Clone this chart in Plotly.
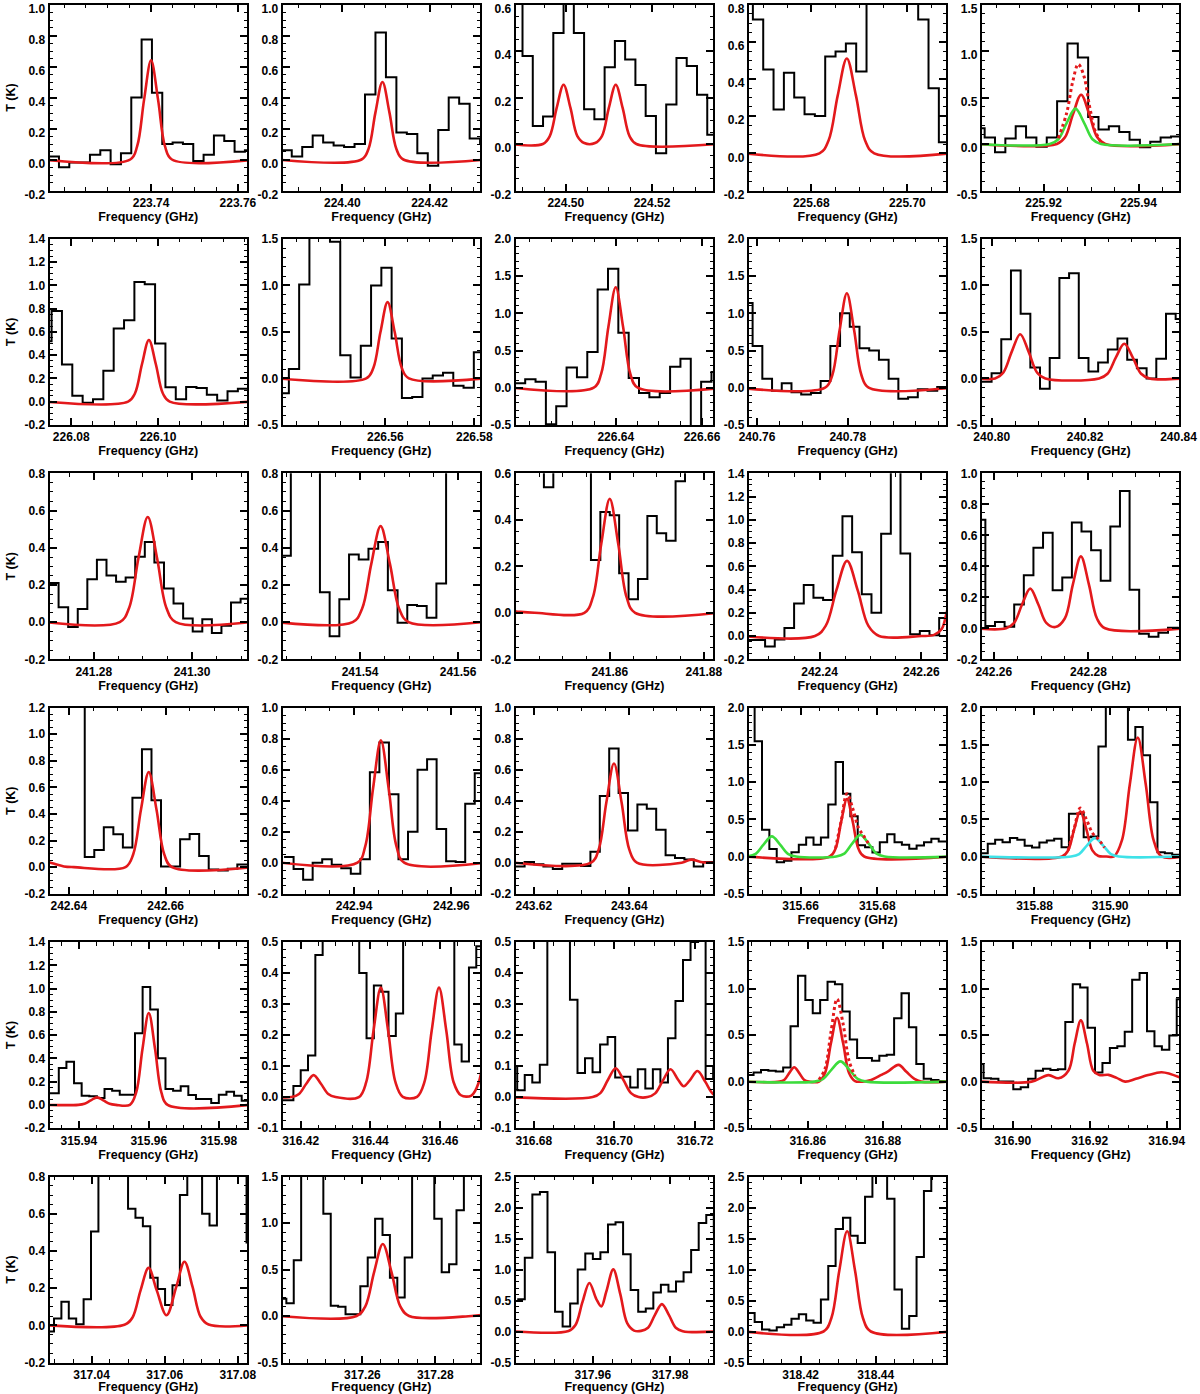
import numpy as np
import plotly.graph_objects as go

RED = "#e3191c"
GREEN = "#3cdc3c"
CYAN = "#3fe2e8"
FONT = "Liberation Sans"

# ---------------------------------------------------------------------------
# Data. Spectra are channel values (K); every channel
# starts at CHAN_START[i] + k * CHAN_WIDTH[i] (GHz).
# ---------------------------------------------------------------------------
CHAN_START = [223.7164, 224.3860, 224.4876, 225.6657, 225.9054,
              226.0731, 226.5360, 226.6166, 240.7569, 240.7979,
              241.2709, 241.5239, 241.8380, 242.2255, 242.2562,
              242.6354, 242.9256, 243.6161, 315.6461, 315.8657,
              315.9299, 316.4137, 316.6740, 316.8436, 316.8905,
              317.0277, 317.2371, 317.9404, 318.4058]
CHAN_WIDTH = [0.00238, 0.00240, 0.00238, 0.00215, 0.00218,
              0.002384, 0.00231, 0.00240, 0.00214, 0.002075,
              0.00195, 0.00198, 0.00200, 0.00190, 0.00203,
              0.00197, 0.00196, 0.00197, 0.00192, 0.00195,
              0.00218, 0.00210, 0.00187, 0.00197, 0.00193,
              0.002025, 0.00203, 0.00196, 0.00196]

P01_T = [0.02, -0.05, -0.02, -0.02, 0.03, 0.06, -0.03, 0.04, 0.40, 0.775, 0.43, 0.10, 0.11, 0.10, -0.01, 0.03, 0.155, 0.12, 0.05, 0.06]
P02_T = [0.06, 0.02, 0.08, 0.155, 0.11, 0.09, 0.08, 0.10, 0.42, 0.82, 0.53, 0.175, 0.165, 0.04, -0.04, 0.19, 0.40, 0.36, 0.135, 0.10]
P03_T = [0.8, 0.378, 0.077, 0.118, 0.477, 0.75, 0.477, 0.15, 0.106, 0.33, 0.443, 0.363, 0.254, 0.12, -0.04, 0.17, 0.37, 0.336, 0.212, 0.04]
P04_T = [0.9, 0.72, 0.45, 0.235, 0.433, 0.30, 0.21, 0.20, 0.52, 0.547, 0.59, 0.44, 1.0, 1.2, 1.2, 1.1, 0.95, 0.72, 0.35, 0.06]
P05_T = [0.17, 0.07, -0.09, 0.06, 0.19, 0.07, -0.03, 0.07, 0.46, 1.08, 0.93, 0.29, 0.155, 0.19, 0.13, 0.045, -0.035, 0.025, 0.07, 0.08]
P06_T = [0.52, 0.78, 0.32, 0.05, -0.01, 0.02, 0.265, 0.63, 0.70, 1.03, 1.01, 0.50, 0.124, 0.02, 0.127, 0.118, 0.06, 0.01, 0.09, 0.11]
P07_T = [-0.16, 0.10, 1.01, 1.7, 1.6, 1.47, 0.25, 0.01, 0.35, 1.0, 1.19, 0.43, -0.21, -0.2, 0.0, 0.03, 0.06, -0.08, -0.1, 0.28]
P08_T = [0.06, 0.115, 0.08, -0.49, -0.25, 0.27, 0.14, 0.48, 1.32, 1.6, 0.74, 0.13, -0.07, -0.13, -0.07, 0.28, 0.39, -0.7, 0.08, 0.21]
P09_T = [1.14, 0.56, 0.12, -0.04, 0.06, -0.06, -0.09, -0.07, 0.09, 0.56, 1.0, 0.82, 0.53, 0.5, 0.375, 0.12, -0.15, -0.13, -0.02, -0.04, 0.01, 0.0]
P10_T = [-0.035, 0.055, 0.42, 1.16, 0.695, 0.117, -0.11, 0.22, 1.08, 1.13, 0.22, 0.073, 0.17, 0.31, 0.43, 0.2, 0.11, 0.0, 0.21, 0.695, 0.64]
P11_T = [0.21, 0.08, -0.027, 0.07, 0.23, 0.335, 0.25, 0.217, 0.24, 0.352, 0.43, 0.32, 0.18, 0.10, 0.02, -0.05, 0.015, -0.058, -0.02, 0.105, 0.126]
P12_T = [0.357, 1.0, 1.2, 1.0, 0.16, -0.076, 0.123, 0.363, 0.336, 0.394, 0.43, 0.171, -0.004, 0.092, 0.087, 0.023, 0.207, 1.0, 1.1, 1.0, 1.0]
P13_T = [0.7, 0.8, 0.75, 0.7, 0.54, 0.9, 1.0, 1.0, 0.8, 0.227, 0.434, 0.42, 0.17, 0.058, 0.145, 0.416, 0.342, 0.31, 0.566, 0.8, 0.9, 0.9]
P14_T = [-0.035, -0.035, -0.09, -0.03, 0.07, 0.28, 0.44, 0.33, 0.31, 0.69, 1.03, 0.72, 0.36, 0.2, 0.88, 1.6, 0.71, 0.015, 0.044, 0.006, 0.155]
P15_T = [0.70, 0.015, 0.04, 0.01, 0.153, 0.343, 0.52, 0.617, 0.245, 0.328, 0.683, 0.624, 0.503, 0.306, 0.656, 0.886, 0.249, -0.035, -0.055, -0.028, 0.004, 0.0]
P16_T = [1.5, 1.6, 1.5, 1.4, 0.077, 0.128, 0.30, 0.248, 0.148, 0.523, 0.888, 0.503, 0.005, 0.005, 0.209, 0.25, 0.084, -0.018, -0.026, -0.013, 0.02, 0.02]
P17_T = [0.037, -0.04, -0.11, 0.0, 0.022, -0.013, -0.035, -0.072, 0.022, 0.584, 0.775, 0.442, 0.022, 0.2, 0.60, 0.667, 0.217, 0.01, 0.005, 0.38, 0.577]
P18_T = [-0.024, 0.004, -0.01, -0.024, -0.04, -0.007, -0.007, -0.022, 0.07, 0.43, 0.737, 0.449, 0.208, 0.376, 0.348, 0.212, 0.048, 0.03, 0.02, -0.024, 0.004, 0.004]
P19_T = [2.2, 1.55, 0.36, 0.1, -0.076, -0.058, 0.058, 0.157, 0.256, 0.157, 0.256, 0.70, 1.27, 0.845, 0.54, 0.15, 0.126, 0.054, 0.193, 0.30, 0.193, 0.157, 0.103, 0.148, 0.193, 0.238, 0.2, 0.2]
P20_T = [0.045, 0.17, 0.225, 0.193, 0.247, 0.225, 0.144, 0.121, 0.189, 0.216, 0.238, 0.126, 0.575, 0.575, 0.26, 0.27, 1.48, 2.3, 2.4, 2.1, 1.57, 1.74, 1.36, 0.73, 0.058, 0.045, 0.022, 0.022]
P21_T = [0.1, 0.1, 0.317, 0.37, 0.186, 0.078, 0.073, 0.058, 0.137, 0.122, 0.087, 0.087, 0.616, 1.014, 0.82, 0.40, 0.137, 0.122, 0.16, 0.084, 0.05, 0.05, 0.015, 0.087, 0.113, 0.078, 0.035, 0.035]
P22_T = [-0.01, -0.01, 0.036, 0.087, 0.134, 0.458, 0.6, 0.7, 0.8, 0.7, 0.6, 0.40, 0.19, 0.36, 0.34, 0.197, 0.27, 0.6, 0.7, 0.8, 0.8, 0.7, 0.6, 0.55, 0.17, 0.115, 0.418, 0.487]
P23_T = [0.1, 0.022, 0.071, 0.047, 0.104, 0.7, 0.9, 0.8, 0.314, 0.078, 0.125, 0.08, 0.17, 0.194, 0.063, 0.066, 0.031, 0.09, 0.028, 0.09, 0.047, 0.19, 0.31, 0.442, 0.5, 0.9, 0.058, 0.1]
P24_T = [0.072, 0.098, 0.126, 0.116, 0.108, 0.152, 0.596, 1.138, 0.878, 0.734, 0.878, 1.073, 1.048, 0.755, 0.452, 0.253, 0.253, 0.224, 0.278, 0.289, 0.68, 0.95, 0.585, 0.19, 0.03, 0.018, 0.007, 0.007]
P25_T = [0.19, 0.036, 0.03, 0.0, 0.0, -0.083, -0.06, 0.03, 0.116, 0.137, 0.126, 0.134, 0.64, 1.048, 1.012, 0.578, 0.098, 0.2, 0.36, 0.38, 0.535, 1.095, 1.167, 0.542, 0.38, 0.343, 0.495, 0.885]
P26_T = [-0.033, 0.036, 0.127, 0.036, 0.005, 0.14, 0.504, 0.9, 1.0, 1.0, 0.9, 0.627, 0.578, 0.533, 0.255, 0.195, 0.109, 0.215, 0.70, 0.9, 0.85, 0.60, 0.536, 0.9, 1.0, 0.9, 0.9, 0.445]
P27_T = [0.185, 0.138, 0.60, 1.6, 1.8, 1.7, 1.10, 0.109, 0.1, 0.02, 0.02, 0.32, 0.63, 1.046, 0.87, 0.41, 0.2, 0.63, 1.6, 1.8, 1.6, 1.046, 0.47, 0.556, 1.137, 1.6, 1.7, 1.7]
P28_T = [0.52, 1.19, 2.21, 2.25, 1.28, 0.317, 0.08, 0.453, 1.0, 1.26, 1.17, 1.28, 1.725, 1.763, 1.245, 0.67, 0.317, 0.37, 0.63, 0.753, 0.644, 0.808, 0.955, 1.315, 1.752, 1.88, 1.6]
P29_T = [0.298, 0.152, 0.033, 0.016, 0.07, 0.108, 0.206, 0.277, 0.179, 0.141, 0.515, 1.057, 1.654, 1.833, 1.545, 1.426, 2.175, 2.8, 2.7, 2.14, 0.678, 0.043, 0.25, 1.2, 2.267, 2.7, 2.8, 2.8]

# model curves (red), sampled along the curve: frequency (GHz), T (K)
P01_RED_F = [223.7150, 223.7352, 223.7368, 223.7384, 223.7400, 223.7416, 223.7432, 223.7448, 223.7640]
P01_RED_T = [0, 0, 0.086, 0.388, 0.64, 0.388, 0.086, 0, 0]
P02_RED_F = [224.3850, 224.4044, 224.4060, 224.4076, 224.4092, 224.4108, 224.4124, 224.4140, 224.4330]
P02_RED_T = [0, 0, 0.068, 0.304, 0.50, 0.304, 0.068, 0, 0]
P03_RED_F = [224.4870, 224.4947, 224.4963, 224.4979, 224.4995, 224.5011, 224.5027, 224.5043, 224.5068, 224.5084, 224.5100, 224.5116, 224.5132, 224.5148, 224.5164, 224.5350]
P03_RED_T = [0, 0, 0.034, 0.155, 0.255, 0.155, 0.034, 0.004, 0.004, 0.034, 0.155, 0.255, 0.155, 0.034, 0, 0]
P04_RED_F = [225.6660, 225.6817, 225.6836, 225.6855, 225.6874, 225.6893, 225.6912, 225.6931, 225.7090]
P04_RED_T = [0, 0, 0.069, 0.31, 0.51, 0.31, 0.069, 0, 0]
P05_RED_F = [225.9060, 225.9228, 225.9245, 225.9262, 225.9279, 225.9296, 225.9313, 225.9330, 225.9490]
P05_RED_T = [0, 0, 0.072, 0.322, 0.53, 0.322, 0.072, 0, 0]
P06_RED_F = [226.0740, 226.0931, 226.0947, 226.0963, 226.0979, 226.0995, 226.1011, 226.1027, 226.1210]
P06_RED_T = [0, 0, 0.072, 0.322, 0.53, 0.322, 0.072, 0, 0]
P07_RED_F = [226.5360, 226.5557, 226.5573, 226.5589, 226.5605, 226.5621, 226.5637, 226.5653, 226.5820]
P07_RED_T = [0, 0, 0.111, 0.498, 0.82, 0.498, 0.111, 0, 0]
P08_RED_F = [226.6160, 226.6349, 226.6366, 226.6383, 226.6400, 226.6417, 226.6434, 226.6451, 226.6650]
P08_RED_T = [0, 0, 0.182, 0.819, 1.35, 0.819, 0.182, 0, 0]
P09_RED_F = [240.7560, 240.7750, 240.7766, 240.7782, 240.7798, 240.7814, 240.7830, 240.7846, 240.8030]
P09_RED_T = [0, 0, 0.171, 0.771, 1.27, 0.771, 0.171, 0, 0]
P10_RED_F = [240.7970, 240.8007, 240.8025, 240.8043, 240.8061, 240.8079, 240.8097, 240.8115, 240.8230, 240.8248, 240.8266, 240.8284, 240.8302, 240.8320, 240.8338, 240.8410]
P10_RED_T = [0, 0, 0.064, 0.288, 0.475, 0.288, 0.064, 0, 0, 0.05, 0.226, 0.373, 0.226, 0.05, 0, 0]
P11_RED_F = [241.2700, 241.2853, 241.2872, 241.2891, 241.2910, 241.2929, 241.2948, 241.2967, 241.3120]
P11_RED_T = [0, 0, 0.076, 0.343, 0.565, 0.343, 0.076, 0, 0]
P12_RED_F = [241.5230, 241.5385, 241.5404, 241.5423, 241.5442, 241.5461, 241.5480, 241.5499, 241.5650]
P12_RED_T = [0, 0, 0.07, 0.313, 0.516, 0.313, 0.07, 0, 0]
P13_RED_F = [241.8380, 241.8410, 241.8440, 241.8546, 241.8564, 241.8582, 241.8600, 241.8618, 241.8636, 241.8654, 241.8830]
P13_RED_T = [0.012, 0.004, 0, 0, 0.066, 0.297, 0.49, 0.297, 0.066, 0, 0]
P14_RED_F = [242.2250, 242.2391, 242.2412, 242.2433, 242.2454, 242.2475, 242.2496, 242.2517, 242.2600, 242.2625, 242.2640, 242.2649, 242.2660]
P14_RED_T = [0, 0, 0.087, 0.393, 0.647, 0.393, 0.087, 0, 0, 0.01, 0.06, 0.19, 0.40]
P15_RED_F = [242.2560, 242.2626, 242.2643, 242.2660, 242.2677, 242.2694, 242.2711, 242.2730, 242.2750, 242.2767, 242.2784, 242.2801, 242.2818, 242.2835, 242.3000]
P15_RED_T = [0, 0, 0.035, 0.155, 0.256, 0.155, 0.035, 0.008, 0.063, 0.282, 0.464, 0.282, 0.063, 0, 0]
P16_RED_F = [242.6350, 242.6370, 242.6390, 242.6410, 242.6517, 242.6533, 242.6549, 242.6565, 242.6581, 242.6597, 242.6613, 242.6780]
P16_RED_T = [0.045, 0.025, 0.005, 0, 0, 0.097, 0.434, 0.715, 0.434, 0.097, 0, 0]
P17_RED_F = [242.9250, 242.9407, 242.9423, 242.9439, 242.9455, 242.9471, 242.9487, 242.9503, 242.9670]
P17_RED_T = [0, 0, 0.107, 0.48, 0.79, 0.48, 0.107, 0, 0]
P18_RED_F = [243.6160, 243.6320, 243.6336, 243.6352, 243.6368, 243.6384, 243.6400, 243.6416, 243.6510, 243.6530, 243.6550, 243.6570, 243.6580]
P18_RED_T = [0, 0, 0.086, 0.388, 0.64, 0.388, 0.086, 0, 0, 0.02, 0.005, 0, 0]
P19_RED_F = [315.6460, 315.6676, 315.6691, 315.6706, 315.6721, 315.6736, 315.6751, 315.6766, 315.6990]
P19_RED_T = [0, 0, 0.104, 0.469, 0.773, 0.469, 0.104, 0, 0]
P20_RED_F = [315.8650, 315.8873, 315.8889, 315.8905, 315.8921, 315.8937, 315.8953, 315.8969, 315.8990, 315.9010, 315.9031, 315.9052, 315.9073, 315.9094, 315.9115, 315.9136, 315.9190]
P20_RED_T = [0, 0, 0.082, 0.368, 0.607, 0.368, 0.082, 0.007, 0, 0, 0.216, 0.971, 1.60, 0.971, 0.216, 0, 0]
P21_RED_F = [315.9300, 315.9398, 315.9416, 315.9434, 315.9452, 315.9470, 315.9488, 315.9506, 315.9546, 315.9564, 315.9582, 315.9600, 315.9618, 315.9636, 315.9654, 315.9890]
P21_RED_T = [0, 0, 0.009, 0.039, 0.064, 0.039, 0.009, 0, 0, 0.107, 0.48, 0.79, 0.48, 0.107, 0, 0]
P22_RED_F = [316.4130, 316.4174, 316.4195, 316.4216, 316.4237, 316.4258, 316.4279, 316.4300, 316.4367, 316.4388, 316.4409, 316.4430, 316.4451, 316.4472, 316.4493,
             316.4534, 316.4555, 316.4576, 316.4597, 316.4618, 316.4639, 316.4660, 316.4690, 316.4711, 316.4732]
P22_RED_T = [0, 0, 0.01, 0.043, 0.071, 0.043, 0.01, 0, 0, 0.048, 0.214, 0.353, 0.214, 0.048, 0.001,
             0.001, 0.048, 0.214, 0.353, 0.214, 0.048, 0.006, 0.005, 0.047, 0.21]
P23_RED_F = [316.6740, 316.6946, 316.6965, 316.6984, 316.7003, 316.7022, 316.7041, 316.7060, 316.7082, 316.7101, 316.7120, 316.7139,
             316.7158, 316.7172, 316.7187, 316.7206, 316.7225, 316.7244, 316.7263]
P23_RED_T = [0, 0, 0.013, 0.056, 0.093, 0.056, 0.013, 0, 0, 0.012, 0.053, 0.09,
             0.056, 0.035, 0.054, 0.084, 0.05, 0.011, 0.001]
P24_RED_F = [316.8430, 316.8525, 316.8538, 316.8551, 316.8564, 316.8577, 316.8590, 316.8603, 316.8630, 316.8646, 316.8662, 316.8678, 316.8694, 316.8710,
             316.8726, 316.8745, 316.8769, 316.8796, 316.8813, 316.8842, 316.8862, 316.8884, 316.8902, 316.8970]
P24_RED_T = [0, 0, 0.021, 0.094, 0.155, 0.094, 0.021, 0, 0, 0.093, 0.417, 0.687, 0.417, 0.093,
             0.006, 0.0, 0.018, 0.072, 0.108, 0.18, 0.108, 0.029, 0, 0]
P25_RED_F = [316.8920, 316.9049, 316.9093, 316.9119, 316.9145, 316.9161, 316.9177, 316.9193, 316.9209, 316.9225, 316.9249, 316.9270,
             316.9292, 316.9320, 316.9352, 316.9387, 316.9433]
P25_RED_T = [0, 0.0, 0.07, 0.036, 0.12, 0.41, 0.658, 0.41, 0.12, 0.07, 0.072, 0.04,
             0.0, 0.03, 0.07, 0.1, 0.047]
P26_RED_F = [317.0280, 317.0490, 317.0512, 317.0534, 317.0556, 317.0578, 317.0605, 317.0632, 317.0654, 317.0676, 317.0698, 317.0720, 317.0830]
P26_RED_T = [0, 0.003, 0.042, 0.188, 0.309, 0.189, 0.054, 0.209, 0.342, 0.208, 0.046, 0.004, 0]
P27_RED_F = [317.2370, 317.2584, 317.2608, 317.2632, 317.2656, 317.2680, 317.2704, 317.2728, 317.2900, 317.2930]
P27_RED_T = [0, 0, 0.104, 0.47, 0.774, 0.47, 0.104, 0, 0, 0.012]
P28_RED_F = [317.9400, 317.9537, 317.9555, 317.9573, 317.9591, 317.9609, 317.9622, 317.9635, 317.9653, 317.9671, 317.9689, 317.9707,
             317.9725, 317.9743, 317.9761, 317.9779, 317.9797, 317.9815, 317.9833, 317.9920]
P28_RED_T = [0, 0.009, 0.105, 0.473, 0.783, 0.524, 0.404, 0.647, 1.002, 0.607, 0.135, 0.015,
             0.01, 0.06, 0.268, 0.442, 0.268, 0.06, 0.005, 0]
P29_RED_F = [318.4050, 318.4261, 318.4282, 318.4303, 318.4324, 318.4345, 318.4366, 318.4387, 318.4600]
P29_RED_T = [0, 0, 0.218, 0.981, 1.616, 0.981, 0.218, 0, 0]

# extra components (green / cyan) and total model (red dotted)
P05_GREEN_F = [225.9060, 225.9213, 225.9231, 225.9249, 225.9267, 225.9285, 225.9303, 225.9321, 225.9490]
P05_GREEN_T = [0, 0, 0.051, 0.231, 0.38, 0.231, 0.051, 0, 0]
P05_SUM_F = [225.9231, 225.9249, 225.9261, 225.9273, 225.9285, 225.9297, 225.9309, 225.9321]
P05_SUM_T = [0.061, 0.342, 0.663, 0.858, 0.729, 0.398, 0.136, 0.02]
P19_GREEN_F = [315.6440, 315.6462, 315.6483, 315.6504, 315.6525, 315.6546, 315.6567, 315.6588,
               315.6693, 315.6714, 315.6735, 315.6756, 315.6777, 315.6798, 315.6819, 315.6990]
P19_GREEN_T = [0, 0, 0.036, 0.164, 0.27, 0.164, 0.036, 0, 0, 0.039, 0.176, 0.29, 0.176, 0.039, 0, 0]
P19_SUM_F = [315.6691, 315.6706, 315.6721, 315.6736, 315.6751, 315.6766, 315.6781]
P19_SUM_T = [0.107, 0.48, 0.845, 0.647, 0.387, 0.264, 0.143]
P20_CYAN_F = [315.8650, 315.8897, 315.8918, 315.8939, 315.8960, 315.8981, 315.9002, 315.9023, 315.9190]
P20_CYAN_T = [0, 0, 0.033, 0.15, 0.247, 0.15, 0.033, 0, 0]
P20_SUM_F = [315.8889, 315.8905, 315.8921, 315.8937, 315.8953, 315.8969, 315.8985]
P20_SUM_T = [0.083, 0.376, 0.651, 0.503, 0.316, 0.232, 0.12]
P24_GREEN_F = [316.8430, 316.8618, 316.8641, 316.8664, 316.8687, 316.8710, 316.8733, 316.8756, 316.8970]
P24_GREEN_T = [0, 0, 0.029, 0.132, 0.217, 0.132, 0.029, 0, 0]
P24_SUM_F = [316.8630, 316.8646, 316.8662, 316.8678, 316.8694, 316.8710, 316.8726]
P24_SUM_T = [0.02, 0.137, 0.537, 0.888, 0.624, 0.225, 0.059]

# axes: frequency window, labelled frequencies, temperature window and step
X_RANGES = [[223.7166, 223.7621], [224.3863, 224.4316], [224.4884, 224.5342], [225.6670, 225.7081], [225.9070, 225.9486],
            [226.0750, 226.1205], [226.5369, 226.5813], [226.6168, 226.6626], [240.7582, 240.8017], [240.7979, 240.8402],
            [241.2710, 241.3112], [241.5242, 241.5645], [241.8400, 241.8820], [242.2261, 242.2649], [242.2575, 242.2992],
            [242.6360, 242.6768], [242.9253, 242.9659], [243.6162, 243.6576], [315.6465, 315.6980], [315.8661, 315.9183],
            [315.9316, 315.9881], [316.4148, 316.4715], [316.6755, 316.7245], [316.8443, 316.8969], [316.8920, 316.9433],
            [317.0285, 317.0825], [317.2381, 317.2923], [317.9400, 317.9912], [318.4062, 318.4588]]
X_TICKS = [[223.74, 223.76], [224.40, 224.42], [224.50, 224.52], [225.68, 225.70], [225.92, 225.94],
           [226.08, 226.10], [226.56, 226.58], [226.64, 226.66], [240.76, 240.78], [240.80, 240.82, 240.84],
           [241.28, 241.30], [241.54, 241.56], [241.86, 241.88], [242.24, 242.26], [242.26, 242.28],
           [242.64, 242.66], [242.94, 242.96], [243.62, 243.64], [315.66, 315.68], [315.88, 315.90],
           [315.94, 315.96, 315.98], [316.42, 316.44, 316.46], [316.68, 316.70, 316.72], [316.86, 316.88], [316.90, 316.92, 316.94],
           [317.04, 317.06, 317.08], [317.26, 317.28], [317.96, 317.98], [318.42, 318.44]]
Y_RANGES = [[-0.2, 1.0], [-0.2, 1.0], [-0.2, 0.6], [-0.2, 0.8], [-0.5, 1.5],
            [-0.2, 1.4], [-0.5, 1.5], [-0.5, 2.0], [-0.5, 2.0], [-0.5, 1.5],
            [-0.2, 0.8], [-0.2, 0.8], [-0.2, 0.6], [-0.2, 1.4], [-0.2, 1.0],
            [-0.2, 1.2], [-0.2, 1.0], [-0.2, 1.0], [-0.5, 2.0], [-0.5, 2.0],
            [-0.2, 1.4], [-0.1, 0.5], [-0.1, 0.5], [-0.5, 1.5], [-0.5, 1.5],
            [-0.2, 0.8], [-0.5, 1.5], [-0.5, 2.5], [-0.5, 2.5]]
Y_STEPS = [0.2, 0.2, 0.2, 0.2, 0.5,
           0.2, 0.5, 0.5, 0.5, 0.5,
           0.2, 0.2, 0.2, 0.2, 0.2,
           0.2, 0.2, 0.2, 0.5, 0.5,
           0.2, 0.1, 0.1, 0.5, 0.5,
           0.2, 0.5, 0.5, 0.5]

SPECTRA = [P01_T, P02_T, P03_T, P04_T, P05_T, P06_T, P07_T, P08_T, P09_T, P10_T,
           P11_T, P12_T, P13_T, P14_T, P15_T, P16_T, P17_T, P18_T, P19_T, P20_T,
           P21_T, P22_T, P23_T, P24_T, P25_T, P26_T, P27_T, P28_T, P29_T]
MODELS = [(P01_RED_F, P01_RED_T), (P02_RED_F, P02_RED_T), (P03_RED_F, P03_RED_T), (P04_RED_F, P04_RED_T),
          (P05_RED_F, P05_RED_T), (P06_RED_F, P06_RED_T), (P07_RED_F, P07_RED_T), (P08_RED_F, P08_RED_T),
          (P09_RED_F, P09_RED_T), (P10_RED_F, P10_RED_T), (P11_RED_F, P11_RED_T), (P12_RED_F, P12_RED_T),
          (P13_RED_F, P13_RED_T), (P14_RED_F, P14_RED_T), (P15_RED_F, P15_RED_T), (P16_RED_F, P16_RED_T),
          (P17_RED_F, P17_RED_T), (P18_RED_F, P18_RED_T), (P19_RED_F, P19_RED_T), (P20_RED_F, P20_RED_T),
          (P21_RED_F, P21_RED_T), (P22_RED_F, P22_RED_T), (P23_RED_F, P23_RED_T), (P24_RED_F, P24_RED_T),
          (P25_RED_F, P25_RED_T), (P26_RED_F, P26_RED_T), (P27_RED_F, P27_RED_T), (P28_RED_F, P28_RED_T),
          (P29_RED_F, P29_RED_T)]
# panel index -> list of (freqs, temps, colour, dotted)
EXTRAS = {
    4: [(P05_GREEN_F, P05_GREEN_T, GREEN, False), (P05_SUM_F, P05_SUM_T, RED, True)],
    18: [(P19_GREEN_F, P19_GREEN_T, GREEN, False), (P19_SUM_F, P19_SUM_T, RED, True)],
    19: [(P20_CYAN_F, P20_CYAN_T, CYAN, False), (P20_SUM_F, P20_SUM_T, RED, True)],
    23: [(P24_GREEN_F, P24_GREEN_T, GREEN, False), (P24_SUM_F, P24_SUM_T, RED, True)],
}

# ---------------------------------------------------------------------------
# page geometry (pixels)
# ---------------------------------------------------------------------------
W, H = 1200, 1394
COL_LEFT, COL_STEP, PANEL_W = 49.5, 233.1, 197.5
ROW_TOP, ROW_STEP, PANEL_H = 4.5, 234.4, 186.0
TICK_FONT = dict(family=FONT, size=12, color="black", weight="bold")
TITLE_FONT = dict(family=FONT, size=12.5, color="black", weight="bold")

fig = go.Figure()
layout = {}

for i, spec in enumerate(SPECTRA):
    row, col = divmod(i, 5)
    n = i + 1
    xa = "x" if n == 1 else f"x{n}"
    ya = "y" if n == 1 else f"y{n}"

    # observed spectrum as a histogram-style step line
    fig.add_trace(go.Scatter(
        x0=CHAN_START[i], dx=CHAN_WIDTH[i], y=spec + [spec[-1]],
        mode="lines", line=dict(color="black", width=2, shape="hv"),
        xaxis=xa, yaxis=ya, showlegend=False, hoverinfo="skip"))

    mf, mt = MODELS[i]
    fig.add_trace(go.Scatter(
        x=mf, y=mt, mode="lines",
        line=dict(color=RED, width=2.6, shape="spline", smoothing=1.0),
        xaxis=xa, yaxis=ya, showlegend=False, hoverinfo="skip"))

    for ef, et, colr, dotted in EXTRAS.get(i, []):
        if dotted:
            line = dict(color=colr, width=3, dash="dot", shape="spline", smoothing=1.0)
        else:
            line = dict(color=colr, width=2.6, shape="spline", smoothing=1.0)
        fig.add_trace(go.Scatter(x=ef, y=et, mode="lines", line=line,
                                 xaxis=xa, yaxis=ya, showlegend=False, hoverinfo="skip"))

    left = COL_LEFT + COL_STEP * col
    top = ROW_TOP + ROW_STEP * row
    xdom = [left / W, (left + PANEL_W) / W]
    ydom = [1 - (top + PANEL_H) / H, 1 - top / H]

    xt = X_TICKS[i]
    layout["xaxis" if n == 1 else f"xaxis{n}"] = dict(
        domain=xdom, range=X_RANGES[i], anchor=ya, automargin=False,
        tickmode="array", tickvals=xt, ticktext=[f"{v:.2f}" for v in xt],
        ticks="inside", ticklen=7, tickwidth=1.5, tickcolor="black",
        minor=dict(ticks="inside", ticklen=3.5, tickwidth=1, tickcolor="black",
                   tickmode="linear", tick0=xt[0], dtick=0.005),
        showline=True, linewidth=2, linecolor="black", mirror="allticks",
        showgrid=False, zeroline=False, tickfont=TICK_FONT, ticklabeloverflow="allow",
        title=dict(text="Frequency (GHz)", font=TITLE_FONT, standoff=1))

    y0, y1 = Y_RANGES[i]
    st = Y_STEPS[i]
    yv = [round(v, 3) for v in np.arange(y0, y1 + st / 2, st)]
    minor_step = {0.1: 0.025, 0.2: 0.05, 0.5: 0.1}[st]
    yaxis = dict(
        domain=ydom, range=[y0, y1], anchor=xa, automargin=False,
        tickmode="array", tickvals=yv, ticktext=[f"{v:.1f}" for v in yv],
        ticks="inside", ticklen=7, tickwidth=1.5, tickcolor="black",
        minor=dict(ticks="inside", ticklen=3.5, tickwidth=1, tickcolor="black",
                   tickmode="linear", tick0=0, dtick=minor_step),
        showline=True, linewidth=2, linecolor="black", mirror="allticks",
        showgrid=False, zeroline=False, tickfont=TICK_FONT, ticklabeloverflow="allow")
    if row == 0:
        # keep the top label inside the page, as in the original
        yaxis["ticklabelshift"] = 4
    if col == 0:
        yaxis["title"] = dict(text="T (K)", font=TITLE_FONT, standoff=6)
    layout["yaxis" if n == 1 else f"yaxis{n}"] = yaxis

fig.update_layout(
    width=W, height=H, margin=dict(l=0, r=0, t=0, b=0, autoexpand=False),
    paper_bgcolor="white", plot_bgcolor="white",
    font=dict(family=FONT, color="black"),
    showlegend=False, **layout)

# the page's default body margin would shift the figure by 8 px
fig.write_html("out.html", config={"displayModeBar": False},
               post_script="document.body.style.margin='0px';")
